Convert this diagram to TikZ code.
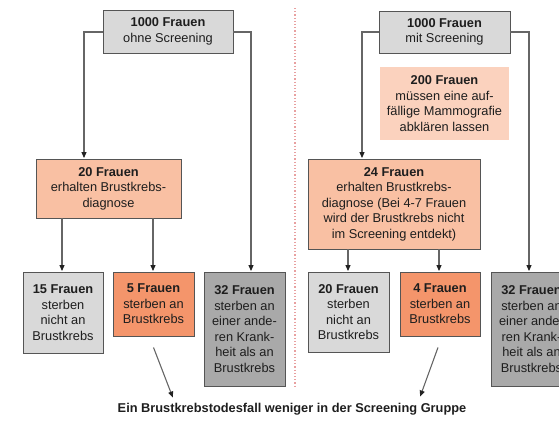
\documentclass[tikz,border=0pt]{standalone}
\usepackage{fontspec}
\setmainfont{Liberation Sans}
\usetikzlibrary{arrows.meta}
\definecolor{txt}{HTML}{1E1E1E}
\definecolor{bordc}{HTML}{555555}
\definecolor{linec}{HTML}{666666}
\definecolor{tipc}{HTML}{222222}
\definecolor{lgrey}{HTML}{D9D9D9}
\definecolor{dgrey}{HTML}{A9A9A9}
\definecolor{salmon}{HTML}{F9C0A3}
\definecolor{lsalmon}{HTML}{FBD2BE}
\definecolor{orangec}{HTML}{F4956B}
\definecolor{dotc}{HTML}{E8A0A0}
\tikzset{
  box/.style={draw=bordc, line width=0.9pt, align=center, inner sep=1pt,
    font=\fontsize{12.8}{15.5}\selectfont, text=txt},
  greybox/.style={box, fill=lgrey},
  darkbox/.style={box, fill=dgrey},
  salbox/.style={box, fill=salmon},
  orbox/.style={box, fill=orangec},
  conn/.style={draw=linec, line width=1.1pt},
  arr/.style={conn, -{Stealth[length=6pt,width=5pt,inset=0pt,color=tipc]}, shorten >=0.5pt}
}
\begin{document}
\begin{tikzpicture}[x=1pt,y=-1pt]
\useasboundingbox (0,0) rectangle (559,425);
\clip (0,0) rectangle (559,425);
% divider
\draw[dotc, line width=1.2pt, dotted] (295,8) -- (295,386);
% left side
\node[greybox, minimum width=130pt, minimum height=43pt] (topL) at (168,31.5) {\textbf{1000 Frauen}\\ohne Screening};
\node[salbox, minimum width=145pt, minimum height=59pt] (diagL) at (108.5,188.5) {\textbf{20 Frauen}\\erhalten Brustkrebs-\\diagnose};
\node[greybox, minimum width=80pt, minimum height=81pt] (b1) at (63,312.5) {\textbf{15 Frauen}\\sterben\\nicht an\\Brustkrebs};
\node[orbox, minimum width=81pt, minimum height=64pt] (b2) at (153.5,304) {\textbf{5 Frauen}\\sterben an\\Brustkrebs};
\node[darkbox, minimum width=81pt, minimum height=114pt] (b3) at (244.5,329) {\textbf{32 Frauen}\\sterben an\\einer ande-\\ren Krank-\\heit als an\\Brustkrebs};
% right side
\node[greybox, minimum width=131pt, minimum height=42pt] (topR) at (444.5,32) {\textbf{1000 Frauen}\\mit Screening};
\node[box, draw=none, fill=lsalmon, minimum width=129pt, minimum height=73pt] (r200) at (444.5,103.5) {\textbf{200 Frauen}\\müssen eine auf-\\fällige Mammografie\\abklären lassen};
\node[salbox, minimum width=172pt, minimum height=90pt] (diagR) at (394,204) {\textbf{24 Frauen}\\erhalten Brustkrebs-\\diagnose (Bei 4-7 Frauen\\wird der Brustkrebs nicht\\im Screening entdekt)};
\node[greybox, minimum width=81pt, minimum height=80pt] (c1) at (348.5,312) {\textbf{20 Frauen}\\sterben\\nicht an\\Brustkrebs};
\node[orbox, minimum width=80pt, minimum height=64pt] (c2) at (440,304) {\textbf{4 Frauen}\\sterben an\\Brustkrebs};
\node[darkbox, minimum width=81pt, minimum height=114pt] (c3) at (531.5,329) {\textbf{32 Frauen}\\sterben an\\einer ande-\\ren Krank-\\heit als an\\Brustkrebs};
% bottom text
\node[font=\bfseries\fontsize{12.8}{15}\selectfont, text=txt, inner sep=0pt] (res) at (292,409) {Ein Brustkrebstodesfall weniger in der Screening Gruppe};
\coordinate (resL) at (173,398);
\coordinate (resR) at (420,397);
% connectors left
\draw[arr] (topL.west |- 0,32) -| (diagL.north -| 84,0);
\draw[arr] (topL.east |- 0,32) -| (b3.north -| 251,0);
\draw[arr] (diagL.south -| 62,0) -- (b1.north -| 62,0);
\draw[arr] (diagL.south -| 153,0) -- (b2.north -| 153,0);
% connectors right
\draw[arr] (topR.west |- 0,32) -| (diagR.north -| 362,0);
\draw[arr] (topR.east |- 0,32) -| (c3.north -| 529,0);
\draw[arr] (diagR.south -| 348,0) -- (c1.north -| 348,0);
\draw[arr] (diagR.south -| 439,0) -- (c2.north -| 439,0);
% result arrows
\draw[arr] ([yshift=-11pt]b2.south) -- (resL);
\draw[arr] ([xshift=-2pt,yshift=-11pt]c2.south) -- (resR);
\end{tikzpicture}
\end{document}
